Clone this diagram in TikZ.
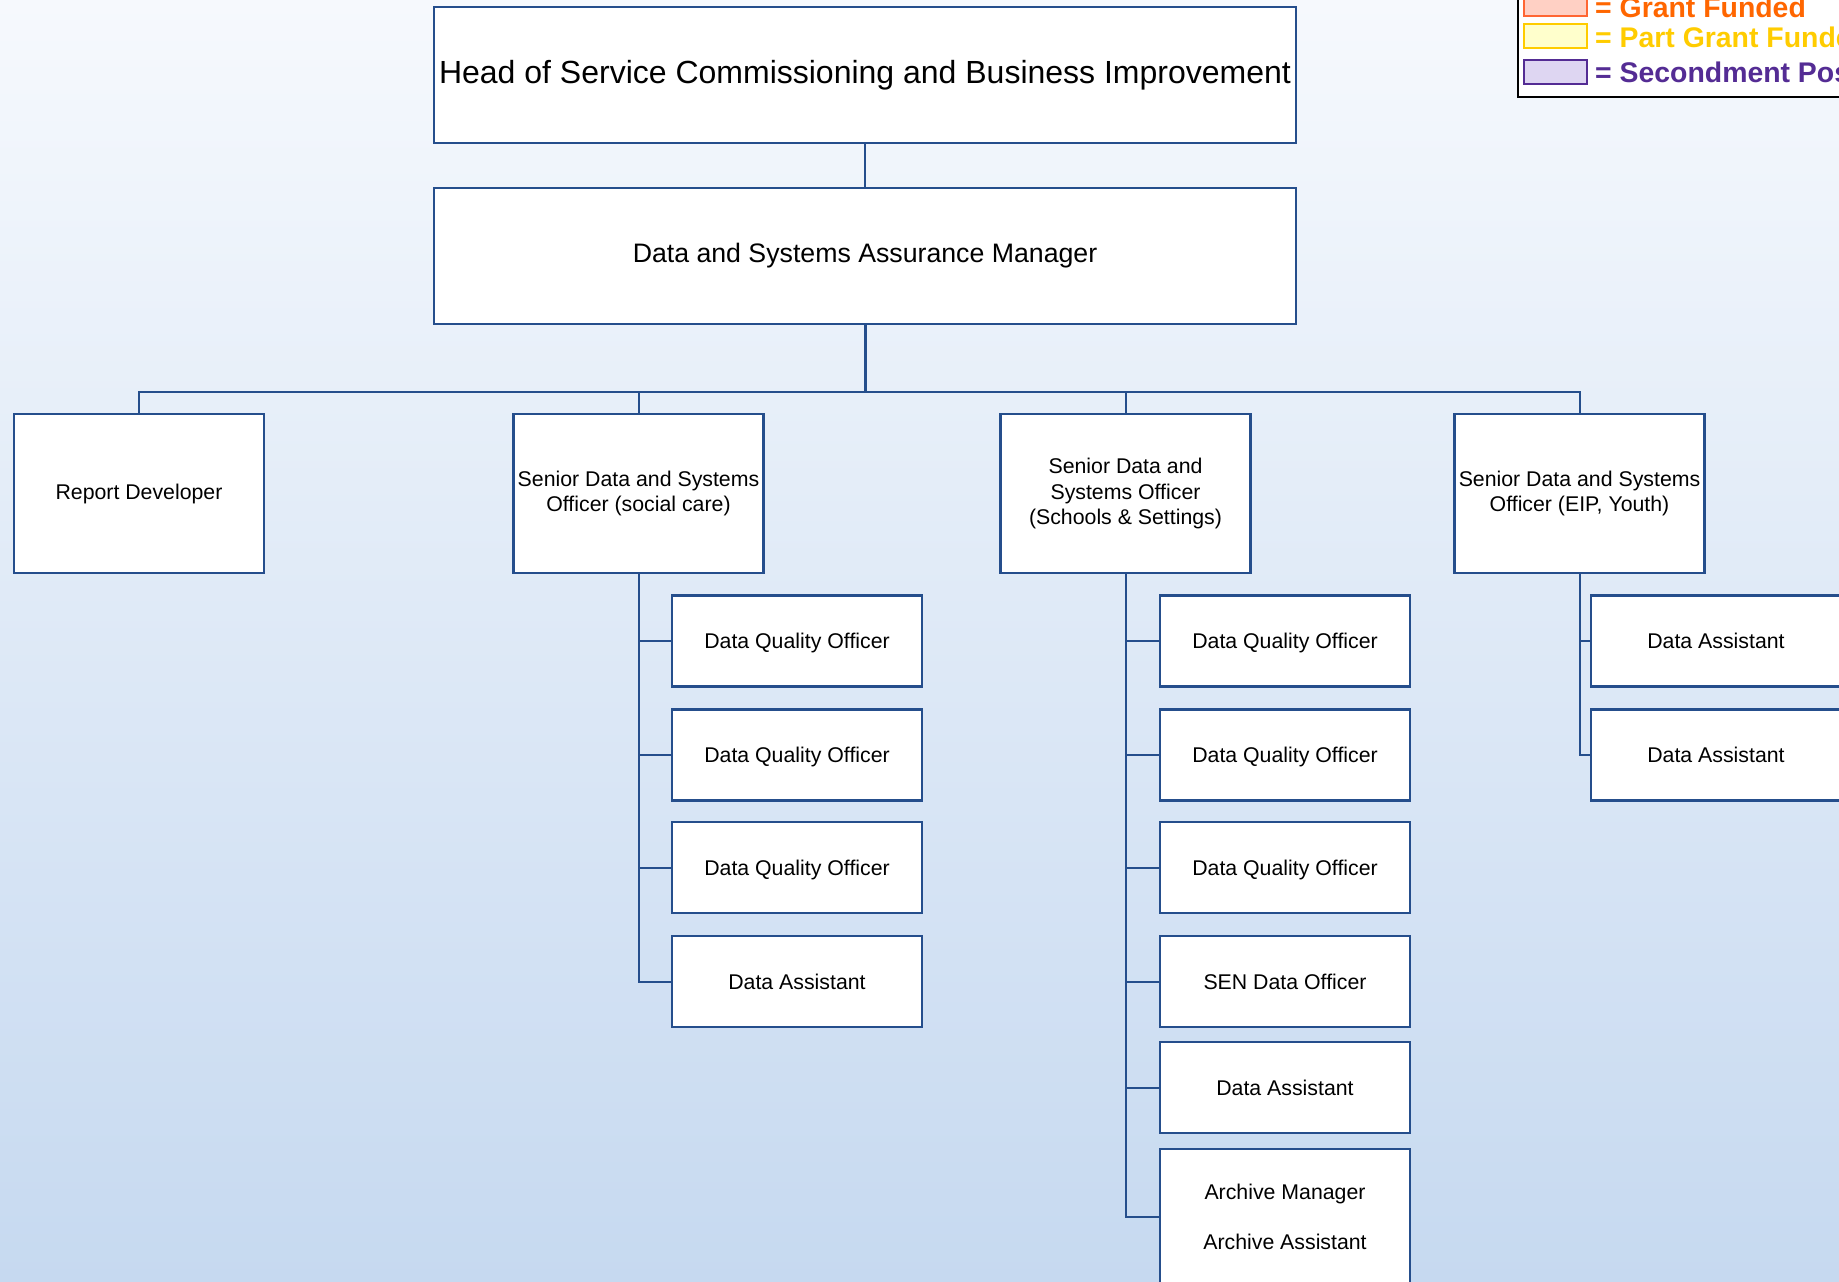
\documentclass[tikz,border=0pt]{standalone}
\usepackage{fontspec}
\setmainfont{Liberation Sans}
\definecolor{boxblue}{RGB}{37,78,140}
\definecolor{bgtop}{RGB}{246,249,253}
\definecolor{bgbot}{RGB}{198,217,240}
\definecolor{grantT}{RGB}{255,102,0}
\definecolor{grantF}{RGB}{255,208,196}
\definecolor{grantB}{RGB}{255,102,51}
\definecolor{partT}{RGB}{255,204,0}
\definecolor{partF}{RGB}{255,255,204}
\definecolor{secT}{RGB}{84,44,148}
\definecolor{secF}{RGB}{222,214,242}
\begin{document}
\begin{tikzpicture}[x=1pt,y=-1pt,
  box/.style={draw=boxblue, line width=2.2pt, fill=white, inner sep=0pt, align=center,
    font=\fontsize{21.3}{25.8}\selectfont},
  topbox/.style={box, minimum width=862pt, minimum height=136pt},
  midbox/.style={box, minimum width=250pt, minimum height=159pt},
  leafbox/.style={box, minimum width=250pt, minimum height=91pt, text height=15.3pt, text depth=0pt},
  conn/.style={draw=boxblue, line width=2pt},
  legtxt/.style={anchor=base west, inner sep=0pt, font=\fontsize{28.4}{31}\selectfont\bfseries}]
\useasboundingbox (0,0) rectangle (1839,1282);
\shade[top color=bgtop, bottom color=bgbot] (0,0) rectangle (1839,1282);

% legend
\draw[black, line width=2pt, fill=white] (1518,-5) rectangle (1850,97);
\draw[grantB, line width=1.6pt, fill=grantF] (1524,-5) rectangle (1587,16);
\draw[partT, line width=1.6pt, fill=partF] (1524,24) rectangle (1587,48);
\draw[secT, line width=1.6pt, fill=secF] (1524,60) rectangle (1587,84);
\node[legtxt, text=grantT] (lg1) at (1595,17) {= Grant Funded};
\node[legtxt, text=partT] (lg2) at (1595,47.5) {= Part Grant Funded};
\node[legtxt, text=secT] (lg3) at (1595,82) {= Secondment Post};

% top
\node[topbox, font=\fontsize{32}{36}\selectfont] (head) at (865,75) {Head of Service Commissioning and Business Improvement};
\node[topbox, font=\fontsize{26.7}{30}\selectfont] (mgr) at (865,256) {Data and Systems Assurance Manager};

% level 2
\node[midbox] (rd) at (139,493.5) {Report Developer};
\node[midbox] (sc) at (638.5,493.5) {Senior Data and Systems\\Officer (social care)};
\node[midbox] (ss) at (1125.5,493.5) {Senior Data and\\Systems Officer\\(Schools \& Settings)};
\node[midbox] (ey) at (1579.5,493.5) {Senior Data and Systems\\Officer (EIP, Youth)};

% social care column
\node[leafbox] (sc1) at (797,641) {Data Quality Officer};
\node[leafbox] (sc2) at (797,755) {Data Quality Officer};
\node[leafbox] (sc3) at (797,867.5) {Data Quality Officer};
\node[leafbox] (sc4) at (797,981.5) {Data Assistant};

% schools column
\node[leafbox] (ss1) at (1285,641) {Data Quality Officer};
\node[leafbox] (ss2) at (1285,755) {Data Quality Officer};
\node[leafbox] (ss3) at (1285,867.5) {Data Quality Officer};
\node[leafbox] (ss4) at (1285,981.5) {SEN Data Officer};
\node[leafbox] (ss5) at (1285,1087.5) {Data Assistant};
\node[box, minimum width=250pt, minimum height=136pt] (ss6) at (1285,1217) {Archive Manager\\[24.6pt]Archive Assistant};

% EIP column
\node[leafbox] (ey1) at (1716,641) {Data Assistant};
\node[leafbox] (ey2) at (1716,755) {Data Assistant};

% connectors
\coordinate (bus) at (0,392);
\draw[conn] (head.south) -- (mgr.north);
\draw[conn, line width=3pt] (mgr.south) -- (mgr.south |- bus);
\foreach \n in {rd,sc,ss,ey}{
  \draw[conn] (mgr.south |- bus) -- (\n.north |- bus) -- (\n.north);
}
\foreach \n in {sc1,sc2,sc3,sc4}{ \draw[conn] (sc.south) |- (\n.west); }
\foreach \n in {ss1,ss2,ss3,ss4,ss5,ss6}{ \draw[conn] (ss.south) |- (\n.west); }
\foreach \n in {ey1,ey2}{ \draw[conn] (ey.south) |- (\n.west); }
\end{tikzpicture}
\end{document}
